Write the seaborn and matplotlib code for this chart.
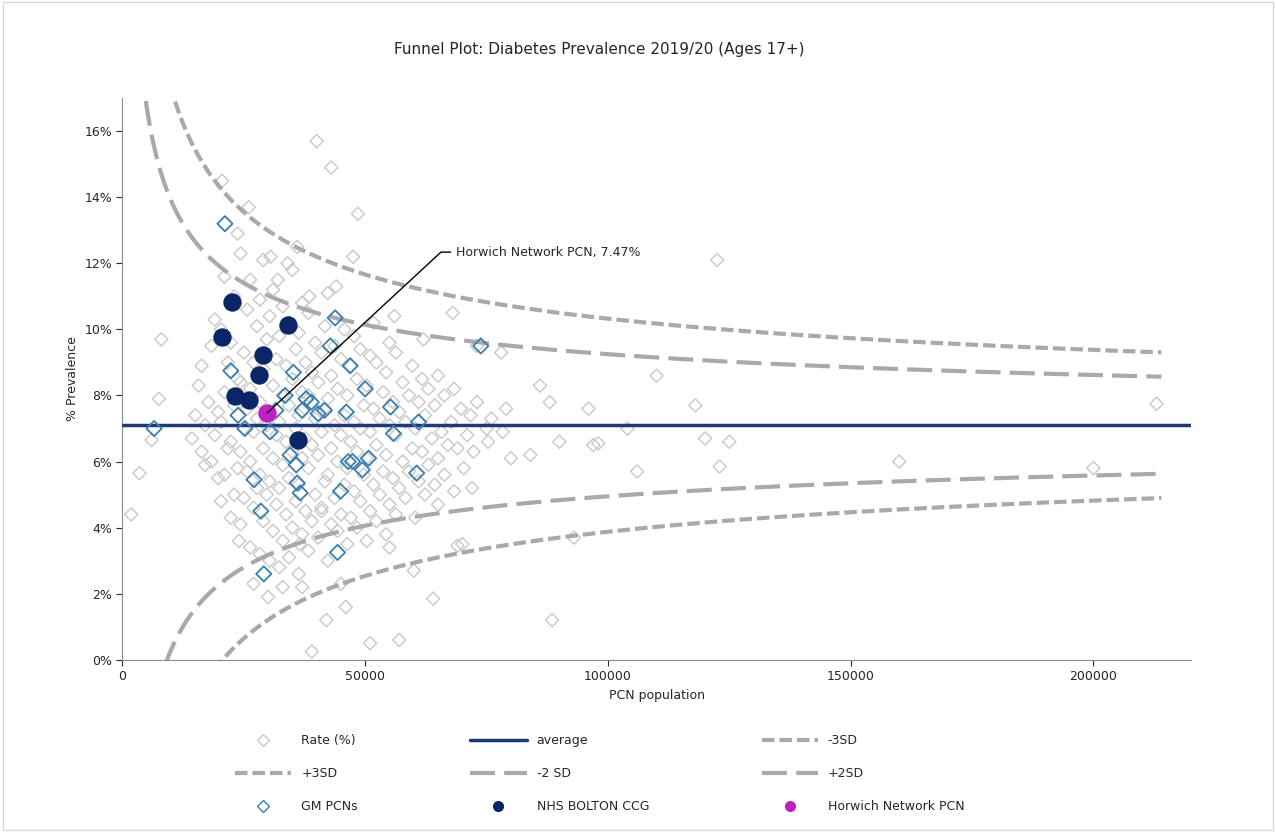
import numpy as np
import pandas as pd
import matplotlib
matplotlib.use("Agg")
import matplotlib.pyplot as plt
from matplotlib.ticker import PercentFormatter
from matplotlib.lines import Line2D
import seaborn as sns

# ---- data ----
AVERAGE = 0.0710
DISPERSION_K = 3.4   # sd of rate ~ K / sqrt(population)

outlier_x = [1800, 3500, 6000, 7500, 8000, 20500, 26000, 30500, 40000, 43000, 48500, 47500,
             44000, 38500, 36000, 32000, 34000, 56000, 62000, 68000, 73000, 78000, 86000, 88000,
             96000, 104000, 110000, 118000, 122500, 120000, 123000, 125000, 106000, 98000, 97000,
             90000, 84000, 80000, 75000, 160000, 200000, 213000, 88500, 93000, 70000, 69000,
             64000, 57000, 51000, 46000, 42000, 39000, 37000, 33000, 30000, 27000, 24000, 36500,
             41000, 45000, 55000, 60000, 65000, 72000]
outlier_y = [4.4, 5.65, 6.65, 7.9, 9.7, 14.5, 13.7, 12.2, 15.7, 14.9, 13.5, 12.2,
             11.3, 11.0, 12.5, 11.5, 12.0, 10.4, 9.7, 10.5, 9.5, 9.3, 8.3, 7.8,
             7.6, 7.0, 8.6, 7.7, 12.1, 6.7, 5.85, 6.6, 5.7, 6.55, 6.5,
             6.6, 6.2, 6.1, 7.0, 6.0, 5.8, 7.75, 1.2, 3.7, 3.5, 3.45,
             1.85, 0.6, 0.5, 1.6, 1.2, 0.25, 2.2, 2.2, 1.9, 2.3, 3.6, 3.5,
             4.5, 2.3, 3.4, 2.7, 4.7, 5.2]

cloud_x_k = [15, 17, 19, 21, 23, 25, 27, 29, 31, 33, 35, 37, 39, 41, 43, 45, 47, 49, 51,
             53, 55, 57, 59, 61, 63, 65, 67, 69, 71, 73, 76, 79]
cloud_y_cols = [
    [6.7, 7.4, 8.3],
    [6.3, 7.1, 7.8, 8.9, 5.9],
    [6.0, 6.8, 7.5, 9.5, 10.3, 5.5],
    [4.8, 5.6, 6.4, 7.2, 8.1, 9.0, 10.0, 11.6],
    [4.3, 5.0, 5.8, 6.6, 7.7, 8.5, 9.6, 11.0, 12.9],
    [4.1, 4.9, 5.7, 6.3, 7.0, 7.6, 8.4, 9.3, 10.6, 12.3],
    [3.4, 4.6, 5.2, 6.0, 6.9, 7.3, 8.2, 9.0, 10.1, 11.5],
    [3.2, 4.2, 5.0, 5.6, 6.4, 7.1, 7.8, 8.8, 9.7, 10.9, 12.1],
    [3.0, 3.9, 4.7, 5.4, 6.1, 6.8, 7.5, 8.3, 9.1, 10.4, 11.2],
    [2.8, 3.6, 4.4, 5.2, 5.9, 6.6, 7.2, 8.0, 8.9, 9.8, 10.7],
    [3.1, 4.0, 4.8, 5.5, 6.3, 7.0, 7.7, 8.5, 9.4, 10.2, 11.8],
    [2.6, 3.8, 4.5, 5.3, 6.1, 6.7, 7.4, 8.1, 9.0, 9.9, 10.8],
    [3.3, 4.2, 5.0, 5.8, 6.5, 7.3, 8.0, 8.7, 9.6, 10.5],
    [3.7, 4.6, 5.4, 6.2, 6.9, 7.6, 8.4, 9.3, 10.1],
    [3.0, 4.1, 4.9, 5.6, 6.4, 7.1, 7.9, 8.6, 9.5, 11.1],
    [3.9, 4.4, 5.3, 6.0, 6.8, 7.4, 8.2, 9.1, 10.0],
    [3.5, 4.3, 5.1, 5.8, 6.6, 7.2, 8.0, 8.9, 9.8],
    [4.0, 4.8, 5.6, 6.3, 7.0, 7.7, 8.5, 9.4],
    [3.6, 4.5, 5.3, 6.1, 6.9, 7.6, 8.3, 9.2, 10.2],
    [4.2, 5.0, 5.7, 6.5, 7.3, 8.1, 9.0],
    [3.8, 4.7, 5.5, 6.2, 7.1, 7.8, 8.7, 9.6],
    [4.4, 5.2, 6.0, 6.8, 7.5, 8.4, 9.3],
    [4.9, 5.7, 6.4, 7.2, 8.0, 8.9],
    [4.3, 5.4, 6.3, 7.0, 7.8, 8.5],
    [5.0, 5.9, 6.7, 7.4, 8.2],
    [5.3, 6.1, 6.9, 7.7, 8.6],
    [5.6, 6.5, 7.2, 8.0],
    [5.1, 6.4, 7.6, 8.2],
    [5.8, 6.8, 7.4],
    [6.3, 7.8],
    [6.6, 7.3],
    [6.9, 7.6],
]

gm_x = [6500, 21100, 22300, 23800, 25200, 27100, 28500, 29100, 30400, 31600, 33500, 34500,
        35200, 35800, 36000, 36600, 37000, 37800, 38900, 40300, 41600, 42800, 43800, 44300,
        44900, 46100, 46900, 46500, 47400, 49400, 50000, 50700, 55200, 55800, 60600, 61000, 73800]
gm_y = [7.0, 13.2, 8.75, 7.4, 7.0, 5.45, 4.5, 2.6, 6.9, 7.55, 8.0, 6.2,
        8.7, 5.9, 5.35, 5.05, 7.55, 7.9, 7.8, 7.45, 7.55, 9.5, 10.35, 3.25,
        5.1, 7.5, 8.9, 6.0, 6.0, 5.75, 8.2, 6.1, 7.65, 6.85, 5.65, 7.2, 9.5]

bolton_x = [20500, 22500, 23200, 26000, 28100, 29000, 34100, 36200]
bolton_y = [9.77, 10.83, 7.99, 7.86, 8.62, 9.23, 10.13, 6.65]

horwich_x = [29800]
horwich_y = [7.47]

# ---- tables ----
grey_x = list(outlier_x)
grey_y = list(outlier_y)
for xk, ys in zip(cloud_x_k, cloud_y_cols):
    for j, yv in enumerate(ys):
        grey_x.append(xk * 1000 + (j % 3 - 1) * 700)
        grey_y.append(yv)
grey = pd.DataFrame({"pop": grey_x, "rate": np.array(grey_y) / 100})
gm = pd.DataFrame({"pop": gm_x, "rate": np.array(gm_y) / 100})
bolton = pd.DataFrame({"pop": bolton_x, "rate": np.array(bolton_y) / 100})
horwich = pd.DataFrame({"pop": horwich_x, "rate": np.array(horwich_y) / 100})

n = np.linspace(1000, 214000, 800)
sd = DISPERSION_K / np.sqrt(n)
limits = pd.DataFrame({"pop": n, "p3": AVERAGE + 3 * sd, "m3": AVERAGE - 3 * sd,
                       "p2": AVERAGE + 2 * sd, "m2": AVERAGE - 2 * sd})

# ---- plot ----
sns.set_style("ticks")
plt.rcParams['font.family'] = ['DejaVu Sans']
fig = plt.figure(figsize=(12.76, 8.32), dpi=100)
ax = fig.add_axes([0.096, 0.207, 0.837, 0.675])

GREY_LINE = "#a9a9a9"
short_dash = (3, 1.2)
long_dash = (6, 2.2)

sns.scatterplot(data=grey, x="pop", y="rate", ax=ax, marker="D", s=45,
                facecolor="none", edgecolor="#c8c8c8", linewidth=1.0, zorder=2)
ax.axhline(AVERAGE, color="#1f3a7a", lw=2.5, zorder=3)
for col, dash in [("p3", short_dash), ("m3", short_dash), ("p2", long_dash), ("m2", long_dash)]:
    sns.lineplot(data=limits, x="pop", y=col, ax=ax, color=GREY_LINE, lw=3,
                 dashes=False, zorder=3).lines[-1].set_dashes(dash)
sns.scatterplot(data=gm, x="pop", y="rate", ax=ax, marker="D", s=60,
                facecolor="none", edgecolor="#3a7eb0", linewidth=1.3, zorder=4)
sns.scatterplot(data=bolton, x="pop", y="rate", ax=ax, marker="o", s=150,
                color="#0b2566", edgecolor="#0b2566", zorder=5)
sns.scatterplot(data=horwich, x="pop", y="rate", ax=ax, marker="o", s=150,
                color="#c21fc2", edgecolor="#c21fc2", zorder=6)

# callout
hx, hy = horwich_x[0], horwich_y[0] / 100
ax.plot([hx, 65600, 67600], [hy, 0.1234, 0.1234], color="black", lw=1, zorder=7)
ax.text(68800, 0.1234, f"Horwich Network PCN, {horwich_y[0]:.2f}%", fontsize=9,
        va="center", ha="left", zorder=7)

ax.set_xlim(0, 220000)
ax.set_ylim(0, 0.17)
ax.set_xticks([0, 50000, 100000, 150000, 200000])
ax.set_yticks(np.arange(0, 0.17, 0.02))
ax.yaxis.set_major_formatter(PercentFormatter(1.0, decimals=0))
ax.tick_params(labelsize=9, length=4)
ax.set_xlabel("PCN population", fontsize=9)
ax.set_ylabel("% Prevalence", fontsize=9)
sns.despine(ax=ax)
for s in ["left", "bottom"]:
    ax.spines[s].set_color("#8c8c8c")

fig.text(0.47, 0.94, "Funnel Plot: Diabetes Prevalence 2019/20 (Ages 17+)",
         ha="center", va="center", fontsize=11)

# legend (filled column-wise, so order for 3 rows)
def dline(dash):
    h = Line2D([], [], color=GREY_LINE, lw=3)
    h.set_dashes(dash)
    return h

handles = [
    Line2D([], [], marker="D", ls="none", mfc="none", mec="#c8c8c8", ms=6),
    dline(short_dash),
    Line2D([], [], marker="D", ls="none", mfc="none", mec="#3a7eb0", ms=6),
    Line2D([], [], color="#1f3a7a", lw=2.5),
    dline(long_dash),
    Line2D([], [], marker="o", ls="none", color="#0b2566", ms=7),
    dline(short_dash),
    dline(long_dash),
    Line2D([], [], marker="o", ls="none", color="#c21fc2", ms=7),
]
labels = ["Rate (%)", "+3SD", "GM PCNs", "average", "-2 SD", "NHS BOLTON CCG",
          "-3SD", "+2SD", "Horwich Network PCN"]
fig.legend(handles, labels, ncol=3, loc="center", bbox_to_anchor=(0.47, 0.07),
           frameon=False, fontsize=9, handlelength=4.5, columnspacing=9,
           labelspacing=1.6)

fig.patches.append(plt.Rectangle((0.002, 0.002), 0.996, 0.996, transform=fig.transFigure,
                                 fill=False, edgecolor="#d9d9d9", lw=1))
fig.savefig("out.png", dpi=100)
